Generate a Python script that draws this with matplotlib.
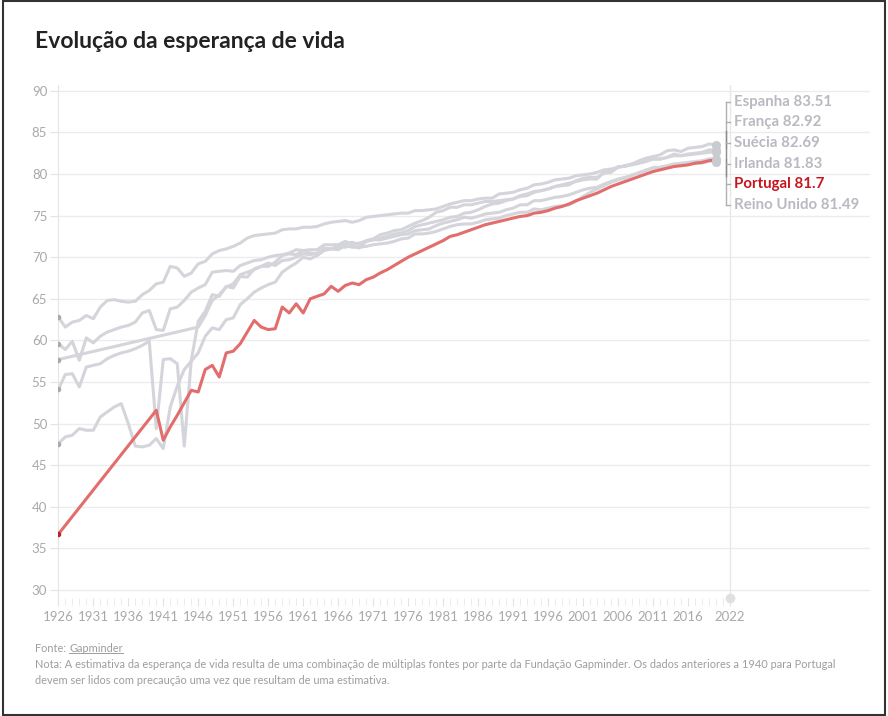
import numpy as np
import matplotlib.pyplot as plt
from matplotlib.lines import Line2D
from matplotlib.patches import Rectangle

plt.rcParams['font.family'] = ['Lato', 'DejaVu Sans']

# --- data ---
years = list(range(1926, 2021))

espanha = [47.6, 48.4, 48.6, 49.4, 49.2, 49.2, 50.8, 51.4, 52.0, 52.4,
           50.0, 47.3, 47.2, 47.4, 48.2, 47.0, 52.0, 54.5, 56.5, 57.5,
           58.5, 60.5, 61.5, 61.3, 62.5, 62.7, 64.3, 65.0, 65.8, 66.3,
           66.7, 67.0, 68.2, 68.8, 69.3, 70.0, 69.8, 70.2, 70.8, 71.0,
           71.3, 71.6, 71.8, 71.5, 72.0, 72.2, 72.7, 72.9, 73.2, 73.3,
           73.7, 74.1, 74.4, 74.8, 75.4, 75.6, 76.0, 76.0, 76.3, 76.3,
           76.5, 76.7, 76.7, 76.8, 76.9, 77.0, 77.4, 77.6, 77.9, 78.0,
           78.2, 78.5, 78.6, 78.7, 79.2, 79.5, 79.6, 79.6, 80.1, 80.2,
           80.9, 80.9, 81.2, 81.6, 81.9, 82.1, 82.3, 82.8, 82.9, 82.7,
           83.1, 83.2, 83.3, 83.6, 83.51]

franca = [54.1, 55.9, 56.0, 54.4, 56.8, 57.0, 57.2, 57.8, 58.2, 58.5,
          58.7, 59.0, 59.4, 59.9, 49.4, 57.7, 57.8, 57.2, 47.3, 57.6,
          62.3, 63.5, 65.5, 65.3, 66.5, 66.3, 67.7, 67.6, 68.6, 68.9,
          68.9, 69.4, 70.2, 70.4, 70.3, 70.8, 70.5, 70.4, 71.1, 71.0,
          71.3, 71.2, 71.4, 71.1, 71.9, 72.1, 72.3, 72.5, 72.8, 72.9,
          73.2, 73.7, 73.9, 74.1, 74.3, 74.5, 74.8, 74.9, 75.3, 75.4,
          75.7, 76.1, 76.4, 76.5, 76.8, 77.0, 77.3, 77.4, 77.8, 78.0,
          78.2, 78.5, 78.7, 78.9, 79.1, 79.3, 79.4, 79.4, 80.3, 80.3,
          80.8, 81.0, 81.1, 81.3, 81.5, 81.8, 81.8, 82.0, 82.4, 82.2,
          82.4, 82.5, 82.6, 82.9, 82.92]

suecia = [62.8, 61.6, 62.2, 62.4, 63.0, 62.6, 64.0, 64.8, 64.9, 64.7,
          64.6, 64.7, 65.5, 66.0, 66.8, 67.0, 68.9, 68.7, 67.7, 68.1,
          69.2, 69.5, 70.4, 70.8, 71.0, 71.3, 71.7, 72.3, 72.6, 72.7,
          72.8, 72.9, 73.3, 73.4, 73.4, 73.6, 73.6, 73.7, 74.0, 74.2,
          74.3, 74.4, 74.2, 74.4, 74.8, 74.9, 75.0, 75.1, 75.2, 75.3,
          75.3, 75.6, 75.6, 75.7, 75.8, 76.1, 76.4, 76.6, 76.8, 76.8,
          77.0, 77.1, 77.1, 77.6, 77.7, 77.8, 78.1, 78.3, 78.7, 78.8,
          79.0, 79.3, 79.4, 79.5, 79.8, 79.9, 80.0, 80.2, 80.5, 80.6,
          80.8, 81.0, 81.2, 81.4, 81.6, 81.8, 81.8, 82.0, 82.2, 82.2,
          82.3, 82.4, 82.5, 82.6, 82.69]

# Ireland: only an estimate from 1926 to 1946 (straight segment)
irl_years = [1926] + list(range(1946, 2021))
irlanda = [57.7,
           61.6, 63.0, 64.8, 65.5, 66.4, 66.8, 67.9, 68.2, 68.5, 68.9,
           69.3, 69.0, 69.6, 69.7, 70.0, 70.4, 70.3, 70.5, 71.0, 71.0,
           70.9, 71.4, 71.2, 71.2, 71.3, 71.5, 71.6, 71.7, 71.9, 72.2,
           72.3, 72.8, 72.8, 72.9, 73.1, 73.4, 73.7, 73.9, 74.0, 74.0,
           74.2, 74.5, 74.6, 74.7, 75.0, 75.2, 75.4, 75.4, 75.8, 75.7,
           75.9, 76.1, 76.2, 76.3, 76.7, 77.3, 77.8, 78.2, 78.6, 79.0,
           79.3, 79.5, 79.9, 80.1, 80.5, 80.7, 80.8, 81.0, 81.2, 81.3,
           81.4, 81.5, 81.6, 81.8, 81.83]

reino_unido = [59.6, 58.9, 59.9, 57.6, 60.3, 59.7, 60.5, 61.0, 61.3, 61.6,
               61.8, 62.2, 63.3, 63.6, 61.3, 61.2, 63.8, 64.0, 64.8, 65.8,
               66.3, 66.7, 68.2, 68.3, 68.4, 68.3, 69.0, 69.3, 69.6, 69.7,
               70.0, 70.2, 70.3, 70.5, 70.9, 70.8, 70.9, 70.9, 71.5, 71.5,
               71.5, 71.9, 71.6, 71.7, 71.9, 72.1, 72.1, 72.3, 72.5, 72.7,
               72.8, 73.2, 73.3, 73.4, 73.8, 74.1, 74.3, 74.5, 74.8, 74.7,
               74.9, 75.2, 75.3, 75.4, 75.7, 75.9, 76.3, 76.3, 76.8, 76.8,
               77.0, 77.2, 77.3, 77.5, 77.8, 78.1, 78.3, 78.4, 78.8, 79.1,
               79.4, 79.6, 79.8, 80.2, 80.4, 80.8, 80.8, 80.9, 81.2, 81.0,
               81.2, 81.3, 81.3, 81.6, 81.49]

# Portugal: values before 1940 are an estimate (straight segment)
pt_years = [1926] + list(range(1940, 2021))
portugal = [36.7,
            51.6, 48.0, 49.6, 51.0, 52.5, 54.0, 53.8, 56.5, 57.0, 55.6,
            58.5, 58.7, 59.6, 61.0, 62.4, 61.6, 61.3, 61.4, 64.0, 63.3,
            64.4, 63.3, 65.0, 65.3, 65.6, 66.5, 65.9, 66.6, 66.9, 66.7,
            67.3, 67.6, 68.1, 68.5, 69.0, 69.5, 70.0, 70.4, 70.8, 71.2,
            71.6, 72.0, 72.5, 72.7, 73.0, 73.3, 73.6, 73.9, 74.1, 74.3,
            74.5, 74.7, 74.9, 75.0, 75.3, 75.4, 75.6, 75.9, 76.1, 76.4,
            76.8, 77.1, 77.4, 77.7, 78.1, 78.5, 78.8, 79.1, 79.4, 79.7,
            80.0, 80.3, 80.5, 80.7, 80.9, 81.0, 81.1, 81.3, 81.4, 81.6,
            81.7]

grey_series = [
    ("Espanha", years, espanha),
    ("França", years, franca),
    ("Suécia", years, suecia),
    ("Irlanda", irl_years, irlanda),
    ("Reino Unido", years, reino_unido),
]

label_order = ["Espanha", "França", "Suécia", "Irlanda", "Portugal", "Reino Unido"]
label_values = ["83.51", "82.92", "82.69", "81.83", "81.7", "81.49"]

xtick_years = list(range(1926, 2017, 5)) + [2022]
yticks = list(range(30, 91, 5))

# --- styling ---
GREY_LINE = "#d4d4db"
RED_LINE = "#e26d6d"
RED_TEXT = "#c8141e"
GREY_TEXT = "#b9b9c1"
TICK_TEXT = "#a9a9a9"
GRID = "#ececec"

fig = plt.figure(figsize=(8.88, 7.16), dpi=100)
ax = fig.add_axes([58.3 / 888, 1 - 598.3 / 716, (870 - 58.3) / 888, (598.3 - 85) / 716])

for name, yrs, vals in grey_series:
    ax.plot(yrs, vals, color=GREY_LINE, lw=2.2, solid_capstyle="round", zorder=2)
    ax.plot(yrs[0], vals[0], "o", ms=3, color="#a9a9b2", zorder=3)
    ax.plot(yrs[-1], vals[-1], "o", ms=5.5, color="#cacad1", zorder=3)

ax.plot(pt_years, portugal, color=RED_LINE, lw=2.2, solid_capstyle="round", zorder=4)
ax.plot(pt_years[0], portugal[0], "o", ms=3, color="#b3262b", zorder=5)
ax.plot(pt_years[-1], portugal[-1], "o", ms=5.5, color="#cacad1", zorder=5)

ax.set_xlim(1926, 2042)
ax.set_ylim(29, 90.7)

ax.set_yticks(yticks)
ax.set_xticks(xtick_years)
ax.set_xticks(range(1926, 2023), minor=True)
ax.grid(axis="y", color=GRID, lw=1)
ax.set_axisbelow(True)

ax.tick_params(axis="y", length=6, color="#e3e3e3", labelcolor=TICK_TEXT, labelsize=9.5, pad=2)
ax.tick_params(axis="x", which="major", length=6, color="#e3e3e3", labelcolor=TICK_TEXT,
               labelsize=9.5, pad=3)
ax.tick_params(axis="x", which="minor", length=5, color="#e8e8e8")

for side in ["top", "right", "bottom"]:
    ax.spines[side].set_visible(False)
ax.spines["left"].set_color("#e5e5e5")

# current year marker
ax.axvline(2022, color="#e8e8e8", lw=1, zorder=1)
ax.plot(2022, 29, "o", ms=6, color="#e0e0e0", clip_on=False, zorder=3)

# end labels with bracket
label_y = [88.7 - 2.48 * i for i in range(len(label_order))]
bx = 2021.4
ax.plot([bx, bx], [label_y[0], label_y[2] - 0.6], color="#b0b0b0", lw=1, clip_on=False)
ax.plot([bx, bx], [label_y[3] + 0.6, label_y[5]], color="#b0b0b0", lw=1, clip_on=False)
ax.plot([bx, bx], [label_y[1] - 1.0, label_y[4] + 1.0], color="#8a8a8a", lw=1, clip_on=False)
for i, (name, val) in enumerate(zip(label_order, label_values)):
    ax.plot([bx, bx + 0.6], [label_y[i], label_y[i]], color="#b0b0b0", lw=1)
    col = RED_TEXT if name == "Portugal" else GREY_TEXT
    ax.text(2022.6, label_y[i], f"{name} {val}", color=col, fontsize=10.8,
            fontweight="bold", va="center", ha="left")

# title and footer
fig.text(35 / 888, 1 - 42 / 716, "Evolução da esperança de vida", fontsize=16.5,
         fontweight="bold", color="#222222", va="center", ha="left")

foot_col = "#9d9d9d"
fs = 7.9
t1 = fig.text(35 / 888, 1 - 648 / 716, "Fonte: ", fontsize=fs, color=foot_col,
              va="center", ha="left")
fig.canvas.draw()
r = fig.canvas.get_renderer()
bb = t1.get_window_extent(r)
t2 = fig.text(bb.x1 / 888, 1 - 648 / 716, "Gapminder", fontsize=fs, color=foot_col,
              va="center", ha="left")
bb2 = t2.get_window_extent(r)
fig.add_artist(Line2D([bb2.x0 / 888, bb2.x1 / 888], [(bb2.y0 + 0.5) / 716] * 2,
                      color=foot_col, lw=0.7))

fig.text(35 / 888, 1 - 664 / 716,
         "Nota: A estimativa da esperança de vida resulta de uma combinação de múltiplas fontes "
         "por parte da Fundação Gapminder. Os dados anteriores a 1940 para Portugal",
         fontsize=fs, color=foot_col, va="center", ha="left")
fig.text(35 / 888, 1 - 680 / 716,
         "devem ser lidos com precaução uma vez que resultam de uma estimativa.",
         fontsize=fs, color=foot_col, va="center", ha="left")

# screenshot border
fig.add_artist(Rectangle((0.003, 0.002), 0.994, 0.996, transform=fig.transFigure,
                         fill=False, edgecolor="#333333", lw=1.5))

fig.savefig("out.png", dpi=100)
